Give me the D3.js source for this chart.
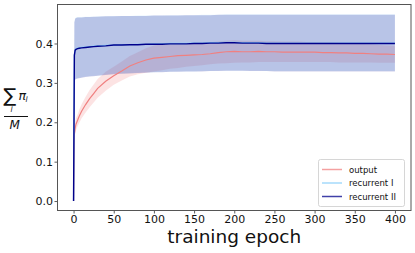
<!DOCTYPE html>
<html>
<head>
<meta charset="utf-8">
<script src="https://cdn.jsdelivr.net/npm/d3@7"></script>
<style>
  body { margin: 0; background: #fff; }
  text { font-family: "DejaVu Sans", sans-serif; }
</style>
</head>
<body>
<svg id="chart" width="415" height="253"></svg>
<script>
const epochs = [0, 1, 2, 3, 5, 7, 10, 15, 20, 25, 30, 40, 50, 60, 70, 80, 90, 100, 110, 120, 130, 140, 150, 160, 170, 180, 190, 200, 210, 220, 230, 240, 250, 260, 270, 280, 290, 300, 310, 320, 330, 340, 350, 360, 370, 380, 390, 400];

// output (mean, lower, upper)
const outMean = [0, 0.17, 0.185, 0.195, 0.205, 0.215, 0.228, 0.245, 0.26, 0.273, 0.286, 0.304, 0.318, 0.33, 0.343, 0.351, 0.358, 0.363, 0.365, 0.367, 0.369, 0.370, 0.371, 0.372, 0.374, 0.377, 0.379, 0.380, 0.379, 0.379, 0.380, 0.379, 0.379, 0.378, 0.378, 0.378, 0.378, 0.378, 0.377, 0.377, 0.376, 0.376, 0.375, 0.375, 0.374, 0.373, 0.373, 0.372];
const outLow = [0, 0.158, 0.172, 0.18, 0.19, 0.198, 0.21, 0.225, 0.238, 0.25, 0.262, 0.28, 0.295, 0.306, 0.316, 0.322, 0.326, 0.329, 0.332, 0.336, 0.338, 0.341, 0.343, 0.345, 0.347, 0.349, 0.350, 0.351, 0.352, 0.352, 0.353, 0.353, 0.353, 0.353, 0.353, 0.353, 0.353, 0.353, 0.353, 0.353, 0.352, 0.352, 0.352, 0.352, 0.352, 0.351, 0.351, 0.351];
const outHigh = [0, 0.182, 0.198, 0.21, 0.22, 0.232, 0.246, 0.265, 0.282, 0.296, 0.31, 0.328, 0.341, 0.354, 0.368, 0.378, 0.388, 0.395, 0.398, 0.399, 0.400, 0.401, 0.401, 0.402, 0.403, 0.405, 0.407, 0.408, 0.407, 0.407, 0.407, 0.406, 0.406, 0.405, 0.405, 0.405, 0.404, 0.404, 0.403, 0.403, 0.402, 0.401, 0.400, 0.399, 0.398, 0.396, 0.395, 0.394];

// recurrent I
const rec1Mean = [0, 0.372, 0.384, 0.386, 0.388, 0.389, 0.390, 0.391, 0.392, 0.393, 0.394, 0.395, 0.396, 0.397, 0.397, 0.398, 0.398, 0.399, 0.399, 0.400, 0.400, 0.400, 0.401, 0.401, 0.402, 0.402, 0.403, 0.403, 0.402, 0.402, 0.402, 0.401, 0.401, 0.401, 0.401, 0.401, 0.401, 0.401, 0.401, 0.401, 0.401, 0.401, 0.401, 0.401, 0.401, 0.401, 0.401, 0.401];
const rec1Low = [0, 0.302, 0.309, 0.311, 0.312, 0.313, 0.314, 0.316, 0.317, 0.318, 0.319, 0.321, 0.323, 0.324, 0.325, 0.326, 0.327, 0.327, 0.328, 0.328, 0.329, 0.329, 0.329, 0.330, 0.330, 0.331, 0.331, 0.331, 0.331, 0.331, 0.331, 0.330, 0.330, 0.330, 0.330, 0.330, 0.330, 0.330, 0.330, 0.330, 0.330, 0.330, 0.330, 0.330, 0.330, 0.330, 0.330, 0.330];
const rec1High = [0, 0.455, 0.464, 0.466, 0.467, 0.467, 0.467, 0.468, 0.468, 0.468, 0.469, 0.469, 0.470, 0.470, 0.470, 0.471, 0.471, 0.471, 0.471, 0.472, 0.472, 0.472, 0.472, 0.473, 0.473, 0.473, 0.474, 0.474, 0.474, 0.474, 0.474, 0.474, 0.474, 0.474, 0.474, 0.474, 0.474, 0.474, 0.474, 0.474, 0.474, 0.474, 0.474, 0.474, 0.474, 0.474, 0.474, 0.474];

// recurrent II
const rec2Mean = [0, 0.370, 0.383, 0.385, 0.387, 0.388, 0.389, 0.390, 0.391, 0.392, 0.393, 0.394, 0.396, 0.396, 0.397, 0.397, 0.398, 0.398, 0.398, 0.399, 0.399, 0.399, 0.400, 0.400, 0.401, 0.401, 0.402, 0.402, 0.401, 0.401, 0.401, 0.400, 0.400, 0.400, 0.400, 0.400, 0.400, 0.400, 0.400, 0.400, 0.400, 0.400, 0.400, 0.400, 0.400, 0.400, 0.400, 0.400];
const rec2Low = [0, 0.300, 0.308, 0.310, 0.311, 0.312, 0.313, 0.315, 0.316, 0.317, 0.318, 0.320, 0.322, 0.323, 0.324, 0.325, 0.326, 0.327, 0.327, 0.328, 0.328, 0.329, 0.329, 0.329, 0.330, 0.330, 0.331, 0.331, 0.331, 0.330, 0.330, 0.330, 0.329, 0.329, 0.329, 0.329, 0.329, 0.329, 0.329, 0.329, 0.329, 0.329, 0.329, 0.329, 0.329, 0.329, 0.329, 0.329];
const rec2High = [0, 0.453, 0.463, 0.465, 0.466, 0.466, 0.466, 0.467, 0.467, 0.468, 0.468, 0.469, 0.469, 0.470, 0.470, 0.470, 0.470, 0.471, 0.471, 0.471, 0.471, 0.472, 0.472, 0.472, 0.472, 0.473, 0.473, 0.473, 0.473, 0.473, 0.473, 0.473, 0.473, 0.473, 0.473, 0.473, 0.473, 0.473, 0.473, 0.473, 0.473, 0.473, 0.473, 0.473, 0.473, 0.473, 0.473, 0.473];

const xTicks = [0, 50, 100, 150, 200, 250, 300, 350, 400];
const yTicks = [0.0, 0.1, 0.2, 0.3, 0.4];
const seriesNames = ["output", "recurrent I", "recurrent II"];

const LEFT = 57.5, RIGHT = 411, TOP = 4.5, BOTTOM = 210.5;

let svg = d3.select('#chart');
let x = d3.scaleLinear().domain([-20, 420]).range([LEFT, RIGHT]);
let y = d3.scaleLinear().domain([-0.024, 0.499]).range([BOTTOM, TOP]);

function band(lo, hi) {
  return d3.area().x((d, i) => x(epochs[i])).y0((d, i) => y(lo[i])).y1((d, i) => y(hi[i]))(epochs);
}
function line(vals) {
  return d3.line().x((d, i) => x(epochs[i])).y((d, i) => y(vals[i]))(epochs);
}

// bands first, lines on top
let plot = svg.append('g');
plot.append('path').attr('d', band(outLow, outHigh)).attr('fill', '#f08080').attr('fill-opacity', 0.22);
plot.append('path').attr('d', band(rec1Low, rec1High)).attr('fill', '#87cefa').attr('fill-opacity', 0.2);
plot.append('path').attr('d', band(rec2Low, rec2High)).attr('fill', '#00008b').attr('fill-opacity', 0.2);
plot.append('path').attr('d', line(outMean)).attr('fill', 'none').attr('stroke', '#f08080').attr('stroke-width', 1.2);
plot.append('path').attr('d', line(rec1Mean)).attr('fill', 'none').attr('stroke', '#87cefa').attr('stroke-width', 1.3);
plot.append('path').attr('d', line(rec2Mean)).attr('fill', 'none').attr('stroke', '#00008b').attr('stroke-width', 1.4);

// axes
let xAxis = d3.axisBottom(x).tickValues(xTicks).tickSize(3).tickPadding(2).tickFormat(d3.format('d'));
let yAxis = d3.axisLeft(y).tickValues(yTicks).tickSize(3).tickPadding(1.5).tickFormat(d3.format('.1f'));
let gx = svg.append('g').attr('transform', `translate(0,${BOTTOM})`).call(xAxis);
let gy = svg.append('g').attr('transform', `translate(${LEFT},0)`).call(yAxis);
[gx, gy].forEach(g => {
  g.select('.domain').remove();
  g.selectAll('.tick line').attr('stroke', '#333').attr('stroke-width', 0.8);
  g.selectAll('.tick text').attr('fill', '#111').style('font-size', '11px').style('font-family', 'DejaVu Sans');
});

// frame
svg.append('rect').attr('x', LEFT).attr('y', TOP).attr('width', RIGHT - LEFT).attr('height', BOTTOM - TOP)
  .attr('fill', 'none').attr('stroke', '#555').attr('stroke-width', 1);

// x label
svg.append('text').attr('x', (LEFT + RIGHT) / 2).attr('y', 243).attr('text-anchor', 'middle')
  .style('font-size', '18.5px').attr('fill', '#111').text('training epoch');

// y label: sum_l pi_l / M
let yl = svg.append('g').attr('fill', '#111');
yl.append('text').attr('x', 3.5).attr('y', 102).style('font-size', '19px').text('\u2211');
yl.append('text').attr('x', 18.5).attr('y', 99.5).style('font-size', '12.5px').style('font-style', 'italic').text('\u03c0');
yl.append('text').attr('x', 25.5).attr('y', 102).style('font-size', '7.5px').style('font-style', 'italic').text('l');
yl.append('text').attr('x', 10.5).attr('y', 112).style('font-size', '7.5px').style('font-style', 'italic').text('l');
yl.append('line').attr('x1', 4).attr('x2', 28).attr('y1', 116.5).attr('y2', 116.5).attr('stroke', '#111').attr('stroke-width', 1);
yl.append('text').attr('x', 9.5).attr('y', 128.5).style('font-size', '12px').style('font-style', 'italic').text('M');

// legend
let legendColors = ['#f08080', '#87cefa', '#00008b'];
let lg = svg.append('g');
lg.append('rect').attr('x', 318.5).attr('y', 159.5).attr('width', 86).attr('height', 47).attr('rx', 2)
  .attr('fill', '#fff').attr('fill-opacity', 0.8).attr('stroke', '#ccc').attr('stroke-width', 0.8);
seriesNames.forEach((name, i) => {
  let yy = 169.5 + i * 13.5;
  lg.append('line').attr('x1', 322).attr('x2', 342).attr('y1', yy).attr('y2', yy)
    .attr('stroke', legendColors[i]).attr('stroke-width', 1.5).attr('stroke-opacity', 0.75);
  lg.append('text').attr('x', 349).attr('y', yy + 3).style('font-size', '8.5px').attr('fill', '#111').text(name);
});
</script>
</body>
</html>
